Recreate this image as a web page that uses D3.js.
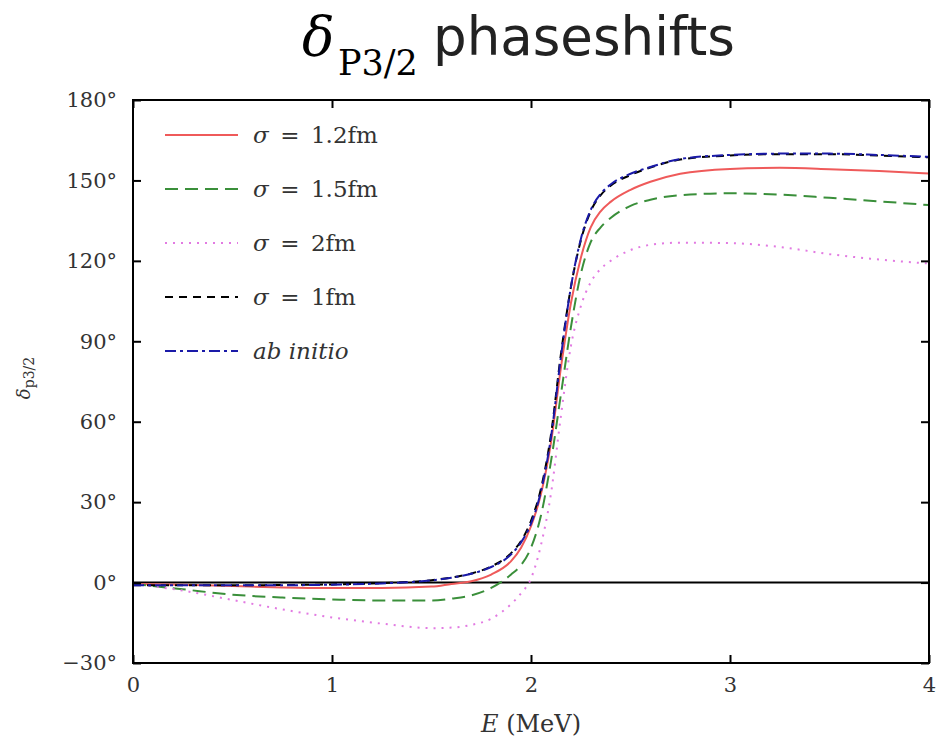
<!DOCTYPE html>
<html>
<head>
<meta charset="utf-8">
<script src="https://cdn.jsdelivr.net/npm/d3@7"></script>
<style>
  body { margin: 0; background: #fff; }
  svg { display: block; }
</style>
</head>
<body>
<div id="chart"></div>
<script>
// Energies (MeV) at which the curves were read
const energy = [0, 0.25, 0.5, 0.75, 1.0, 1.25, 1.5, 1.6, 1.7, 1.8, 1.9, 1.95, 2.0, 2.05, 2.1,
                2.15, 2.2, 2.25, 2.3, 2.35, 2.4, 2.5, 2.6, 2.75, 3.0, 3.25, 3.5, 3.75, 4.0];

// phase shifts in degrees, one list per sigma
const sigma12 = [-0.5, -0.8, -1.3, -1.8, -2, -2, -1.5, -0.5, 0.5, 3, 8, 13, 21, 33, 52,
                 80, 104, 121, 132.5, 138.5, 142, 146.5, 149.5, 152.5, 154.3, 154.7, 154.2, 153.5, 152.6];
const sigma15 = [-0.5, -2.5, -4.5, -5.6, -6.3, -6.7, -6.7, -6, -4.8, -2, 3, 6.5, 13, 25, 45,
                 70, 95, 115, 127, 132.5, 136, 140.5, 142.8, 144.5, 145.2, 144.7, 143.5, 142.2, 140.8];
const sigma20 = [-0.5, -3, -6.5, -10, -13, -15.3, -17, -16.8, -15.8, -13.5, -8, -4, 1.5, 14, 33,
                 62, 88, 103, 112, 117, 120, 124, 126, 126.8, 126.6, 125.2, 122.5, 120.5, 119];
const sigma10 = [-1, -1, -1, -0.9, -0.7, -0.2, 0.9, 1.9, 3.4, 6, 11, 15.5, 23, 35, 55,
                 85, 110, 127.5, 138.5, 144.5, 148, 152, 154.8, 157.8, 159.3, 159.8, 159.8, 159.3, 158.6];
const abInitio = [-1, -1, -1, -1, -0.8, -0.3, 0.8, 1.8, 3.3, 5.8, 10.5, 15, 22, 34, 54,
                  84, 110, 128, 139, 145, 148.5, 152.5, 155, 158, 159.5, 160, 160, 159.5, 158.8];

const xTicks = [0, 1, 2, 3, 4];
const yTicks = [-30, 0, 30, 60, 90, 120, 150, 180];
const legendLabels = ["1.2fm", "1.5fm", "2fm", "1fm", "ab initio"];

const series = [
    { name: legendLabels[0], values: sigma12, color: "#ef5a5a", dash: null },
    { name: legendLabels[1], values: sigma15, color: "#3a8f3a", dash: "13,7" },
    { name: legendLabels[2], values: sigma20, color: "#e27ae2", dash: "2,6" },
    { name: legendLabels[3], values: sigma10, color: "#000000", dash: "8,6" },
    { name: legendLabels[4], values: abInitio, color: "#1a1aa8", dash: "11,4,3,4" }
];

const width = 938, height = 746;
const margin = { top: 100, right: 9, bottom: 83, left: 133 };
const innerW = width - margin.left - margin.right;
const innerH = height - margin.top - margin.bottom;

const svg = d3.select("#chart")
    .append("svg")
    .attr("width", width)
    .attr("height", height);

// Title: delta with subscript, then sans text
const title = svg.append("g");
title.append("text")
    .attr("x", 302).attr("y", 55)
    .attr("font-family", "DejaVu Serif")
    .attr("font-style", "italic")
    .attr("font-size", 54)
    .text("δ");
title.append("text")
    .attr("x", 338).attr("y", 75)
    .attr("font-family", "DejaVu Serif")
    .attr("font-size", 35)
    .text("P3/2");
title.append("text")
    .attr("x", 433).attr("y", 55)
    .attr("font-family", "DejaVu Sans")
    .attr("font-size", 53)
    .attr("fill", "#222")
    .text("phaseshifts");

const g = svg.append("g")
    .attr("transform", `translate(${margin.left},${margin.top})`);

const x = d3.scaleLinear().domain([0, 4]).range([0, innerW]);
const y = d3.scaleLinear().domain([-30, 180]).range([innerH, 0]);

g.append("clipPath").attr("id", "plot-clip")
    .append("rect").attr("width", innerW).attr("height", innerH);

// zero line
g.append("line")
    .attr("x1", 0).attr("x2", innerW)
    .attr("y1", y(0)).attr("y2", y(0))
    .attr("stroke", "#000")
    .attr("stroke-width", 2);

const line = d3.line()
    .x((d, i) => x(energy[i]))
    .y(d => y(d))
    .curve(d3.curveMonotoneX);

const curves = g.append("g").attr("clip-path", "url(#plot-clip)");
series.forEach(s => {
    curves.append("path")
        .datum(s.values)
        .attr("d", line)
        .attr("fill", "none")
        .attr("stroke", s.color)
        .attr("stroke-width", 2)
        .attr("stroke-dasharray", s.dash);
});

// inward ticks on all four sides
const tickLen = 8;
const axisStyle = sel => {
    sel.select(".domain").remove();
    sel.selectAll(".tick line").attr("stroke", "#000").attr("stroke-width", 2);
};
g.append("g").attr("transform", `translate(0,${innerH})`)
    .call(d3.axisBottom(x).tickValues(xTicks).tickSize(-tickLen).tickPadding(14).tickFormat(d3.format("d")))
    .call(axisStyle)
    .selectAll("text")
    .attr("font-family", "DejaVu Serif").attr("font-size", 21).attr("fill", "#333");
g.append("g")
    .call(d3.axisTop(x).tickValues(xTicks).tickSize(-tickLen).tickFormat(""))
    .call(axisStyle);
g.append("g")
    .call(d3.axisLeft(y).tickValues(yTicks).tickSize(-tickLen).tickPadding(16)
        .tickFormat(d => (d < 0 ? "\u2212" + Math.abs(d) : d) + "°"))
    .call(axisStyle)
    .selectAll("text")
    .attr("font-family", "DejaVu Serif").attr("font-size", 21).attr("fill", "#333");
g.append("g").attr("transform", `translate(${innerW},0)`)
    .call(d3.axisRight(y).tickValues(yTicks).tickSize(-tickLen).tickFormat(""))
    .call(axisStyle);

// frame
g.append("rect")
    .attr("width", innerW).attr("height", innerH)
    .attr("fill", "none")
    .attr("stroke", "#000")
    .attr("stroke-width", 2);

// axis labels
const xLabel = svg.append("text")
    .attr("x", margin.left + innerW / 2).attr("y", 732)
    .attr("text-anchor", "middle")
    .attr("font-family", "DejaVu Serif")
    .attr("font-size", 24)
    .attr("fill", "#333");
xLabel.append("tspan").attr("font-style", "italic").text("E");
xLabel.append("tspan").text(" (MeV)");

const yLabel = svg.append("text")
    .attr("transform", "translate(30,378) rotate(-90)")
    .attr("text-anchor", "middle")
    .attr("font-family", "DejaVu Serif")
    .attr("font-size", 18)
    .attr("fill", "#333");
yLabel.append("tspan").attr("font-style", "italic").text("δ");
yLabel.append("tspan").attr("font-size", 14).attr("dy", 4).text("p3/2");

// legend
const legend = g.append("g").attr("transform", "translate(32,35)");
series.forEach((s, i) => {
    const row = legend.append("g").attr("transform", `translate(0,${i * 54})`);
    row.append("line")
        .attr("x1", 0).attr("x2", 73)
        .attr("stroke", s.color)
        .attr("stroke-width", 2)
        .attr("stroke-dasharray", s.dash);
    const t = row.append("text")
        .attr("x", 88).attr("y", 8)
        .attr("font-family", "DejaVu Serif")
        .attr("font-size", 23)
        .attr("fill", "#333");
    if (i === series.length - 1) {
        t.attr("font-style", "italic").text(s.name);
    } else {
        t.append("tspan").attr("font-style", "italic").text("σ");
        t.append("tspan").text("\u2002=\u2002" + s.name);
    }
});
</script>
</body>
</html>
